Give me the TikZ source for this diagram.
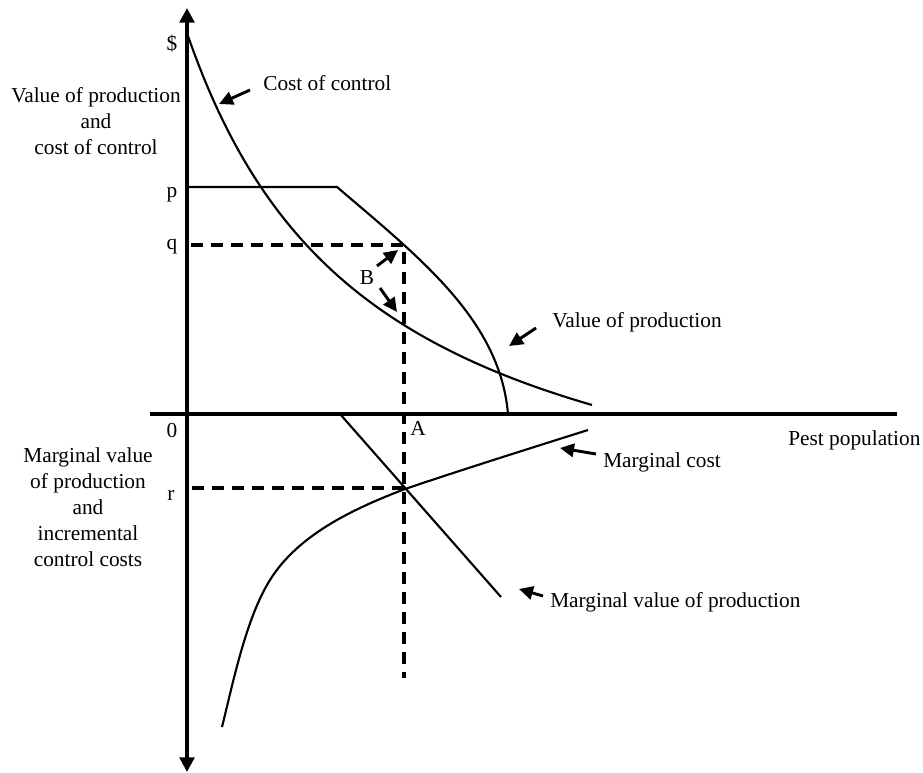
\documentclass[tikz,border=0pt]{standalone}
\usepackage{fontspec}
\setmainfont{Liberation Serif}
\usetikzlibrary{positioning,arrows.meta}
\tikzset{
  axis/.style  = {line width=2.6pt,
                  {Triangle[length=11pt,width=11pt]}-{Triangle[length=11pt,width=11pt]}},
  curve/.style = {line width=1.6pt},
  guide/.style = {line width=2.8pt, dash pattern=on 9pt off 6pt},
  arr/.style   = {-{Triangle[length=10.5pt,width=10pt]}, line width=2.2pt},
  lab/.style   = {font=\fontsize{16}{19.5}\selectfont, inner sep=0pt},
  tick/.style  = {lab, anchor=base}
}
\begin{document}
\begin{tikzpicture}[x=0.75pt,y=-0.75pt]
  \useasboundingbox (0,0) rectangle (923,773);
  % axes
  \coordinate (top)   at (187,8);
  \coordinate (bot)   at (187,772);
  \coordinate (west)  at (150,414);
  \coordinate (east)  at (897,414);
  \draw[axis] (bot) -- (top);
  \draw[axis, {-}] (west) -- (east);

  % ticks on the vertical axis
  \node[tick] (dollar) at (172,51)  {\$};
  \node[tick] (p)      at (172,198) {p};
  \node[tick] (q)      at (172,250) {q};
  \node[tick] (zero)   at (172,437) {0};
  \node[tick] (r)      at (171,500) {r};
  \node[tick] (A)      at (418,435) {A};
  \node[tick] (B)      at (367,285) {B};

  % axis titles
  \node[lab, align=center, anchor=north] (ytop) at (96,87)
    {Value of production\\and\\cost of control};
  \node[lab, align=center, anchor=north] (ybot) at (88,447)
    {Marginal value\\of production\\and\\incremental\\control costs};
  \node[lab, anchor=base west] (pest) at (788,445) {Pest population};

  % curve labels
  \node[lab, anchor=base west] (costlbl) at (263,91)  {Cost of control};
  \node[lab, anchor=base west] (vallbl)  at (552,327) {Value of production};
  \node[lab, anchor=base west] (mclbl)   at (603,467) {Marginal cost};
  \node[lab, anchor=base west] (mvlbl)   at (550,607) {Marginal value of production};

  % cost of control
  \draw[curve] plot[domain=1.88:5.92, samples=80, variable=\t]
    ({100*\t}, {576.7 - 1016.56/\t});
  % value of production
  \draw[curve] (187,187) -- (337,187)
                         .. controls (420,258) and (500,320) .. (508,414);
  % marginal value of production
  \coordinate (mv1) at (340,414);
  \coordinate (mv2) at (501,597);
  \draw[curve] (mv1) -- (mv2);
  % marginal cost
  \draw[curve] (222,727) .. controls (233,683) and (246,618) .. (270,580)
                         .. controls (299,533) and (358,507) .. (405,489)
                         .. controls (461,470) and (531,448) .. (588,430);

  % dashed guides
  \coordinate (qaxis) at (191,245);
  \coordinate (qpt)   at (404,245);
  \coordinate (apt)   at (404,678);
  \coordinate (raxis) at (192,488);
  \coordinate (rpt)   at (404,488);
  \draw[guide] (qaxis) -- (qpt) -- (apt);
  \draw[guide] (raxis) -- (rpt);

  % pointers
  \coordinate (costtail) at (250,90);  \coordinate (costhead) at (219,104);
  \coordinate (valtail)  at (536,328); \coordinate (valhead)  at (509,346);
  \coordinate (mctail)   at (596,454); \coordinate (mchead)   at (560,448);
  \coordinate (mvtail)   at (543,596); \coordinate (mvhead)   at (519,589);
  \coordinate (btail1)   at (377,266); \coordinate (bhead1)   at (398,250);
  \coordinate (btail2)   at (380,288); \coordinate (bhead2)   at (397,312);
  \draw[arr] (costtail) -- (costhead);
  \draw[arr] (valtail)  -- (valhead);
  \draw[arr] (mctail)   -- (mchead);
  \draw[arr] (mvtail)   -- (mvhead);
  \draw[arr] (btail1)   -- (bhead1);
  \draw[arr] (btail2)   -- (bhead2);
\end{tikzpicture}
\end{document}
